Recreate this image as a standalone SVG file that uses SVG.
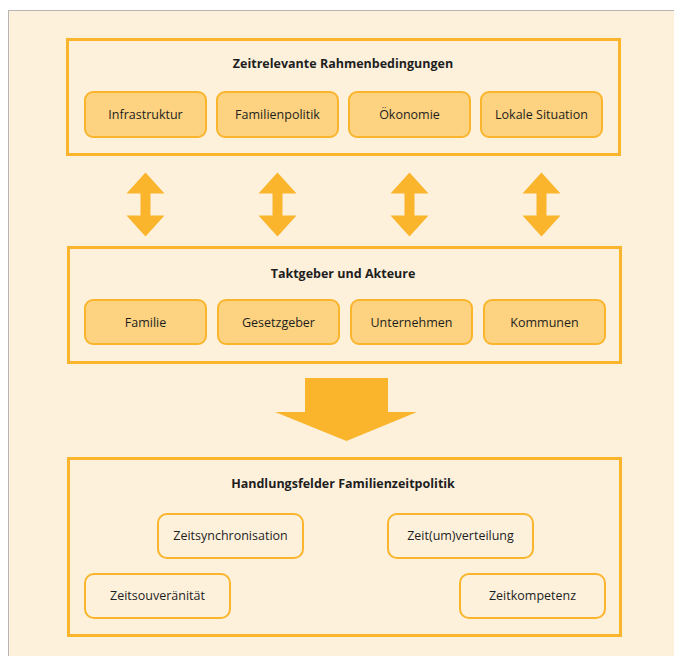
<svg xmlns="http://www.w3.org/2000/svg" width="674" height="656" viewBox="0 0 674 656">
<style>
.frame{fill:none;stroke:#FBB52C;stroke-width:3}
.fbox{fill:#FDD280;stroke:#FBB52C;stroke-width:2}
.obox{fill:none;stroke:#FBB52C;stroke-width:2}
.arr{fill:#FBB52C}
text{font-family:"Open Sans","Noto Sans","Liberation Sans",sans-serif;fill:#1e1e1e;text-anchor:middle}
.t{font-size:12.5px;font-weight:bold}
.l{font-size:12.5px}
</style>
<defs>
<path id="dbl" d="M0,-32 L19,-11 L5,-11 L5,11 L19,11 L0,32 L-19,11 L-5,11 L-5,-11 L-19,-11 Z"/>
</defs>
<rect x="0" y="0" width="674" height="656" fill="#ffffff"/>
<rect x="8.5" y="10.5" width="680" height="660" fill="#FDF1DC" stroke="#b5b5b5" stroke-width="1"/>
<g id="rahmen">
<rect class="frame" x="67.5" y="39.5" width="552" height="115"/>
<text class="t" x="343" y="68">Zeitrelevante Rahmenbedingungen</text>
</g>
<g id="infrastruktur"><rect class="fbox" x="85" y="92" width="121" height="45" rx="8"/><text class="l" x="145.5" y="119">Infrastruktur</text></g>
<g id="familienpolitik"><rect class="fbox" x="217" y="92" width="121" height="45" rx="8"/><text class="l" x="277.5" y="119">Familienpolitik</text></g>
<g id="oekonomie"><rect class="fbox" x="349" y="92" width="121" height="45" rx="8"/><text class="l" x="409.5" y="119">Ökonomie</text></g>
<g id="lokale"><rect class="fbox" x="481" y="92" width="121" height="45" rx="8"/><text class="l" x="541.5" y="119">Lokale Situation</text></g>
<g id="taktgeber">
<rect class="frame" x="68.5" y="247.5" width="552" height="115"/>
<text class="t" x="343" y="278">Taktgeber und Akteure</text>
</g>
<g id="familie"><rect class="fbox" x="85" y="300" width="121" height="44" rx="8"/><text class="l" x="145.5" y="327">Familie</text></g>
<g id="gesetzgeber"><rect class="fbox" x="218" y="300" width="121" height="44" rx="8"/><text class="l" x="278.5" y="327">Gesetzgeber</text></g>
<g id="unternehmen"><rect class="fbox" x="351" y="300" width="121" height="44" rx="8"/><text class="l" x="411.5" y="327">Unternehmen</text></g>
<g id="kommunen"><rect class="fbox" x="484" y="300" width="121" height="44" rx="8"/><text class="l" x="544.5" y="327">Kommunen</text></g>
<g id="handlungsfelder">
<rect class="frame" x="68.5" y="458.5" width="552" height="177"/>
<text class="t" x="343" y="488">Handlungsfelder Familienzeitpolitik</text>
</g>
<g id="zeitsynchronisation"><rect class="obox" x="158" y="514" width="145" height="44" rx="9"/><text class="l" x="230.5" y="540">Zeitsynchronisation</text></g>
<g id="zeitverteilung"><rect class="obox" x="388" y="514" width="145" height="44" rx="9"/><text class="l" x="460.5" y="540">Zeit(um)verteilung</text></g>
<g id="zeitsouveraenitaet"><rect class="obox" x="85" y="574" width="145" height="44" rx="9"/><text class="l" x="157.5" y="600">Zeitsouveränität</text></g>
<g id="zeitkompetenz"><rect class="obox" x="460" y="574" width="145" height="44" rx="9"/><text class="l" x="532.5" y="600">Zeitkompetenz</text></g>
<g id="connectors">
<use href="#dbl" class="arr" x="145.5" y="204.5"/>
<use href="#dbl" class="arr" x="277.5" y="204.5"/>
<use href="#dbl" class="arr" x="409.5" y="204.5"/>
<use href="#dbl" class="arr" x="541.5" y="204.5"/>
<path class="arr" d="M305,378 L388,378 L388,412 L417,412 L346.5,441 L275,412 L305,412 Z"/>
</g>
</svg>
